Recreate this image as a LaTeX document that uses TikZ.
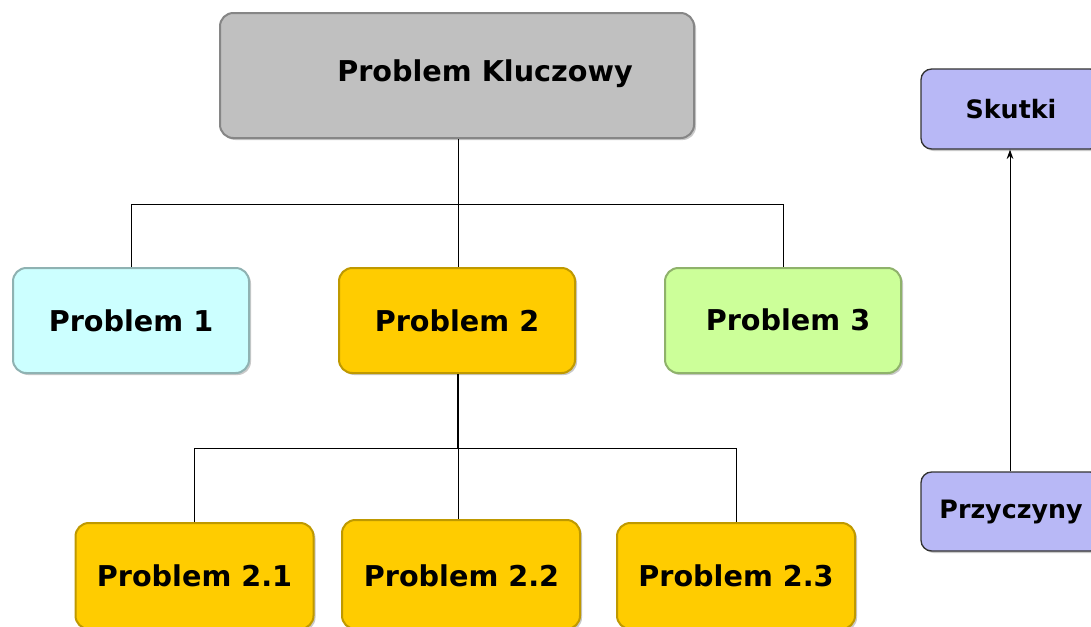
\documentclass[tikz,border=0pt]{standalone}
\usepackage{fontspec}
\setmainfont{DejaVu Sans}
\usetikzlibrary{arrows.meta,shadows}
\definecolor{kgray}{HTML}{C0C0C0}
\definecolor{kcyan}{HTML}{CCFFFF}
\definecolor{kgold}{HTML}{FFCC00}
\definecolor{kgreen}{HTML}{CCFF99}
\definecolor{klav}{HTML}{B8B8F6}
\tikzset{
  bigfont/.style={font=\bfseries\fontsize{21.5pt}{24pt}\selectfont},
  pbox/.style={rounded corners=10pt, line width=1.5pt, inner sep=0pt, bigfont,
    drop shadow={shadow xshift=1.5pt, shadow yshift=-1.5pt, opacity=0.35, fill=black!60}},
  sbox/.style={rounded corners=8pt, line width=1pt, inner sep=0pt, draw=black!80,
    font=\bfseries\fontsize{19pt}{21pt}\selectfont,
    drop shadow={shadow xshift=1.5pt, shadow yshift=-1.5pt, opacity=0.35, fill=black!60}},
  conn/.style={line width=0.75pt, black},
  thickconn/.style={line width=2.2pt, black},
}
\begin{document}
\begin{tikzpicture}[x=0.75pt,y=-0.75pt]
\useasboundingbox (0,0) rectangle (1091,626);
\clip (0,0) rectangle (1091,626);
\fill[white] (0,0) rectangle (1091,626);
% top
\node[pbox, fill=kgray, draw=kgray!70!black, minimum width=355.5pt, minimum height=93.75pt] (k) at (457,75.5) {};
\node[bigfont] (kt) at (485,74) {Problem Kluczowy};
% level 1
\node[pbox, fill=kcyan, draw=kcyan!70!black, minimum width=177pt, minimum height=78.75pt] (p1) at (131,320.5) {Problem 1};
\node[pbox, fill=kgold, draw=kgold!75!black, minimum width=177pt, minimum height=78.75pt] (p2) at (457,320.5) {Problem 2};
\node[pbox, fill=kgreen, draw=kgreen!70!black, minimum width=177pt, minimum height=78.75pt] (p3) at (783,320.5) {};
\node[bigfont] (p3t) at (788,320) {Problem 3};
% level 2
\node[pbox, fill=kgold, draw=kgold!75!black, minimum width=178.5pt, minimum height=79.5pt] (p21) at (194.5,576) {Problem 2.1};
\node[pbox, fill=kgold, draw=kgold!75!black, minimum width=178.5pt, minimum height=81.75pt] (p22) at (461,574.5) {};
\node[bigfont] (p22t) at (461.5,576) {Problem 2.2};
\node[pbox, fill=kgold, draw=kgold!75!black, minimum width=178.5pt, minimum height=79.5pt] (p23) at (736,576) {Problem 2.3};
% right
\node[sbox, fill=klav, minimum width=135pt, minimum height=60pt] (sk) at (1011,109) {Skutki};
\node[sbox, fill=klav, minimum width=135pt, minimum height=59.25pt] (pr) at (1011,511.5) {Przyczyny};
% connectors
\coordinate (j1) at (458,204.5);
\draw[conn] (k.south -| j1) -- (j1);
\draw[conn] (p1.north) |- (j1) -| (p3.north);
\draw[conn] (j1) -- (j1 |- p2.north);
\coordinate (j2) at (458,448.5);
\draw[thickconn] (j2 |- p2.south) -- (j2);
\draw[conn] (p21.north) |- (j2) -| (p23.north);
\draw[conn] (j2) -- (j2 |- p22.north);
\draw[conn, -{Stealth[length=7pt,width=5pt]}] (1010,0 |- pr.north) -- (1010,0 |- sk.south);
\end{tikzpicture}
\end{document}
